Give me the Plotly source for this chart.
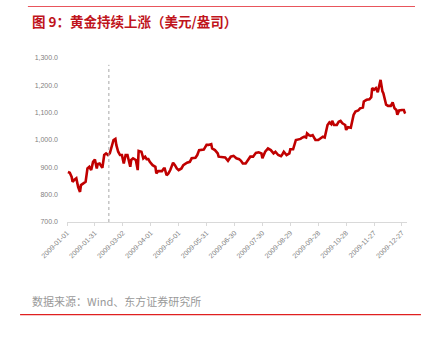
import plotly.graph_objects as go

dates = [
    "2009-01-02", "2009-01-04", "2009-01-06", "2009-01-07", "2009-01-09", "2009-01-11",
    "2009-01-13", "2009-01-15", "2009-01-16", "2009-01-18", "2009-01-21", "2009-01-23",
    "2009-01-25", "2009-01-27", "2009-01-29", "2009-01-31", "2009-02-02", "2009-02-03",
    "2009-02-05", "2009-02-08", "2009-02-10", "2009-02-12", "2009-02-14", "2009-02-16",
    "2009-02-18", "2009-02-20", "2009-02-22", "2009-02-23", "2009-02-25", "2009-02-27",
    "2009-03-01", "2009-03-03", "2009-03-05", "2009-03-07", "2009-03-10", "2009-03-11",
    "2009-03-13", "2009-03-16", "2009-03-18", "2009-03-19", "2009-03-22", "2009-03-24",
    "2009-03-26", "2009-03-28", "2009-03-29", "2009-03-31", "2009-04-03", "2009-04-06",
    "2009-04-07", "2009-04-09", "2009-04-13", "2009-04-15", "2009-04-16", "2009-04-18",
    "2009-04-20", "2009-04-22", "2009-04-24", "2009-04-25", "2009-04-27", "2009-04-29",
    "2009-05-01", "2009-05-04", "2009-05-06", "2009-05-10", "2009-05-13", "2009-05-15",
    "2009-05-19", "2009-05-21", "2009-05-23", "2009-05-26", "2009-05-28", "2009-05-31",
    "2009-06-02", "2009-06-05", "2009-06-06", "2009-06-09", "2009-06-12", "2009-06-13",
    "2009-06-17", "2009-06-20", "2009-06-23", "2009-06-26", "2009-06-29", "2009-07-02",
    "2009-07-05", "2009-07-07", "2009-07-09", "2009-07-12", "2009-07-14", "2009-07-17",
    "2009-07-20", "2009-07-23", "2009-07-26", "2009-07-29", "2009-07-30", "2009-08-01",
    "2009-08-02", "2009-08-05", "2009-08-08", "2009-08-11", "2009-08-13", "2009-08-16",
    "2009-08-19", "2009-08-20", "2009-08-22", "2009-08-25", "2009-08-28", "2009-08-29",
    "2009-09-01", "2009-09-04", "2009-09-06", "2009-09-09", "2009-09-11", "2009-09-13",
    "2009-09-15", "2009-09-16", "2009-09-18", "2009-09-20", "2009-09-22", "2009-09-24",
    "2009-09-25", "2009-09-28", "2009-09-30", "2009-10-03", "2009-10-05", "2009-10-08",
    "2009-10-10", "2009-10-12", "2009-10-13", "2009-10-15", "2009-10-18", "2009-10-20",
    "2009-10-22", "2009-10-24", "2009-10-27", "2009-10-28", "2009-10-30", "2009-11-02",
    "2009-11-05", "2009-11-07", "2009-11-10", "2009-11-12", "2009-11-15", "2009-11-16",
    "2009-11-19", "2009-11-22", "2009-11-24", "2009-11-25", "2009-11-27", "2009-11-29",
    "2009-12-01", "2009-12-03", "2009-12-04", "2009-12-06", "2009-12-07", "2009-12-10",
    "2009-12-12", "2009-12-15", "2009-12-17", "2009-12-19", "2009-12-21", "2009-12-22",
    "2009-12-24", "2009-12-27", "2009-12-29", "2009-12-30", "2009-12-31",
]

gold_price = [
    883, 880, 865, 847, 855, 860,
    828, 810, 835, 841, 847, 896,
    902, 890, 920, 929, 896, 912,
    914, 898, 945, 951, 945, 951,
    975, 1000, 1004, 982, 957, 945,
    945, 914, 945, 945, 902, 927,
    933, 927, 890, 960, 957, 933,
    939, 927, 933, 920, 908, 902,
    878, 886, 886, 896, 896, 871,
    878, 890, 908, 917, 908, 896,
    890, 896, 908, 917, 920, 933,
    935, 945, 963, 963, 965, 982,
    982, 985, 969, 963, 951, 939,
    936, 936, 924, 939, 942, 933,
    930, 924, 914, 914, 924, 939,
    939, 953, 955, 951, 933, 953,
    957, 969, 963, 951, 957, 945,
    941, 945, 957, 945, 951, 966,
    966, 1000, 1002, 1004, 1009, 1012,
    1009, 1024, 1018, 1015, 1018, 1009,
    1000, 1000, 1006, 1012, 1009, 1055,
    1064, 1058, 1070, 1055, 1055, 1067,
    1070, 1061, 1055, 1037, 1047, 1045,
    1092, 1104, 1108, 1116, 1119, 1141,
    1147, 1149, 1157, 1190, 1184, 1190,
    1175, 1202, 1220, 1178, 1171, 1129,
    1125, 1125, 1138, 1116, 1110, 1092,
    1108, 1110, 1110, 1100, 1098,
]

tick_dates = ["2009-01-01", "2009-01-31", "2009-03-02", "2009-04-01", "2009-05-01",
              "2009-05-31", "2009-06-30", "2009-07-30", "2009-08-29", "2009-09-28",
              "2009-10-28", "2009-11-27", "2009-12-27"]
y_ticks = [700, 800, 900, 1000, 1100, 1200, 1300]
marker_date = "2009-02-15"

title_text = "图 9：黄金持续上涨（美元/盎司）"
source_text = "数据来源：Wind、东方证券研究所"

FONT = "Liberation Sans, Arial, Noto Sans CJK SC, sans-serif"
CJK = "Noto Sans CJK SC, sans-serif"

fig = go.Figure()
fig.add_trace(go.Scatter(
    x=dates, y=gold_price, mode="lines",
    line=dict(color="#C00000", width=2.6),
    hoverinfo="skip", showlegend=False,
))

fig.add_shape(type="line", xref="x", yref="y",
              x0=marker_date, x1=marker_date, y0=700, y1=1275,
              line=dict(color="#A6A6A6", width=1, dash="3px,3px"))

# top and bottom red rules
fig.add_shape(type="line", xref="paper", yref="paper",
              x0=-0.115, x1=1.0235, y0=1.314, y1=1.314,
              line=dict(color="#E8555C", width=1.2))
fig.add_shape(type="line", xref="paper", yref="paper",
              x0=-0.138, x1=1.041, y0=-0.565, y1=-0.565,
              line=dict(color="#E02020", width=1.3))

fig.add_annotation(text=title_text, xref="paper", yref="paper",
                   x=-0.108, y=1.228, xanchor="left", yanchor="middle",
                   showarrow=False,
                   font=dict(family=CJK, size=13.5, color="#C0141C", weight="bold"))
fig.add_annotation(text=source_text, xref="paper", yref="paper",
                   x=-0.109, y=-0.479, xanchor="left", yanchor="middle",
                   showarrow=False,
                   font=dict(family=CJK, size=11, color="#999999"))

fig.update_layout(
    width=428, height=338,
    margin=dict(l=67, r=21, t=58, b=116, pad=0),
    paper_bgcolor="white", plot_bgcolor="white",
    font=dict(family=FONT, color="#7F7F7F", size=7),
    xaxis=dict(
        type="date",
        range=["2009-01-01", "2010-01-01 10:00"],
        tickmode="array", tickvals=tick_dates, ticktext=tick_dates,
        tickangle=-45, tickfont=dict(size=7, color="#7F7F7F"),
        showgrid=False, zeroline=False,
        showline=True, linecolor="#D9D9D9", linewidth=1,
        ticks="outside", ticklen=3, tickcolor="#D9D9D9",
    ),
    yaxis=dict(
        range=[700, 1300], tickmode="array", tickvals=y_ticks,
        tickformat=",.1f", tickfont=dict(size=7, color="#7F7F7F"),
        showgrid=False, zeroline=False, showline=False,
        ticks="", ticklabelstandoff=8,
    ),
)

fig.write_html("out.html")
